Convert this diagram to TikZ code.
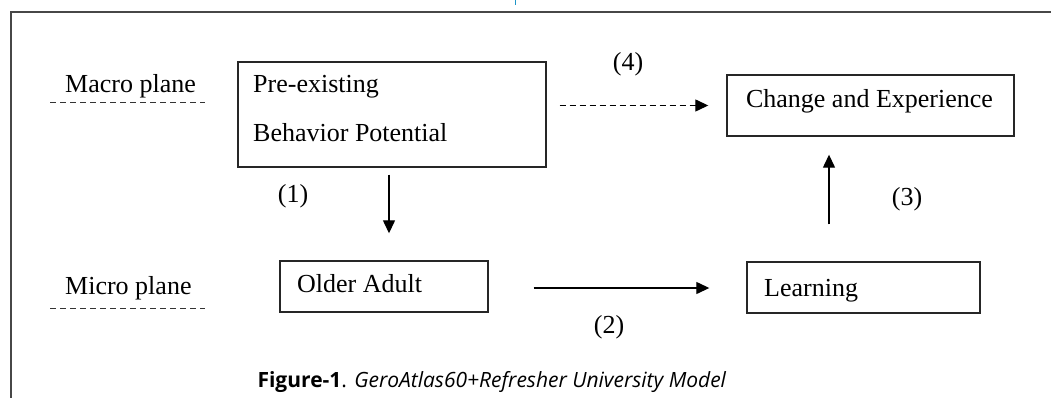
\documentclass[tikz,border=0pt]{standalone}
\usepackage{fontspec}
\setmainfont{Liberation Serif}
\newfontfamily\capfont{Open Sans}
\usetikzlibrary{arrows.meta,calc}
\definecolor{tickblue}{RGB}{30,150,200}
\begin{document}
\begin{tikzpicture}[x=1pt,y=-1pt,
  box/.style={draw=black!85, line width=1.4pt, inner sep=0pt},
  txt/.style={font=\fontsize{26}{30}\selectfont, anchor=base west, inner sep=0pt},
  lbl/.style={font=\fontsize{26}{30}\selectfont, anchor=base, inner sep=0pt},
  arr/.style={line width=1.3pt, -{Triangle[length=13pt,width=12pt]}},
  darr/.style={arr, dash pattern=on 6pt off 4pt},
  plane/.style={line width=1pt, black!80, dash pattern=on 6pt off 4pt},
  frame/.style={line width=1.8pt, black!72}
]
\useasboundingbox (0,0) rectangle (1051,398);
% outer frame and top tick
\draw[frame] (11,398) -- (11,12) -- (1051,12);
\draw[tickblue, line width=1pt] (515,0) -- (515,5);

% plane labels
\node[txt] (macro) at (65,93) {Macro plane};
\coordinate (macroL) at (50,103);
\coordinate (macroR) at (205,103);
\draw[plane] (macroL) -- (macroR);
\node[txt] (micro) at (65,294) {Micro plane};
\coordinate (microL) at (50,308);
\coordinate (microR) at (205,308);
\draw[plane] (microL) -- (microR);

% boxes
\node[box, minimum width=308pt, minimum height=105pt] (pre) at (392,114.5) {};
\node[txt] (pre1) at (253,93) {Pre-existing};
\node[txt] (pre2) at (253,142) {Behavior Potential};

\node[box, minimum width=287pt, minimum height=61pt] (change) at (870.5,105.5) {};
\node[lbl] (changet) at (869.5,108) {Change and Experience};

\node[box, minimum width=208pt, minimum height=51pt] (older) at (384,286.5) {};
\node[txt] (oldert) at (297,292) {Older Adult};

\node[box, minimum width=233pt, minimum height=51pt] (learn) at (863.5,287.5) {};
\node[txt] (learnt) at (764,296) {Learning};

% connectors
\draw[darr] ([xshift=13pt]pre.east |- change.west) -- ([xshift=-18pt]change.west);
\draw[arr] ([shift={(-3,7)}]pre.south) -- ([shift={(5,-27)}]older.north);
\draw[arr] ([xshift=45pt]older.east |- 0,288) -- ([xshift=-37pt]learn.west |- 0,288);
\draw[arr] ([shift={(-34.5,-37)}]learn.north) -- ([shift={(-41.5,18)}]change.south);

% connector labels
\node[lbl] (l4) at (628,71) {(4)};
\node[lbl] (l1) at (293,202) {(1)};
\node[lbl] (l2) at (609,333) {(2)};
\node[lbl] (l3) at (907,205) {(3)};

% caption
\node[anchor=base, inner sep=0pt, font=\capfont\fontsize{21}{25}\selectfont] (cap) at (492,387)
  {\textbf{Figure-1}. \textit{GeroAtlas60+Refresher University Model}};
\end{tikzpicture}
\end{document}
